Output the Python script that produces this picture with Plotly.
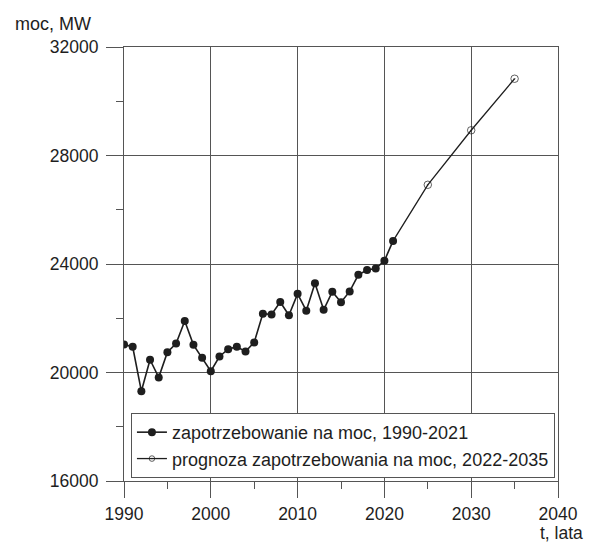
import plotly.graph_objects as go

# Historical peak power demand, 1990-2021
years_hist = list(range(1990, 2022))
demand_hist = [21030, 20950, 19310, 20470, 19820, 20750, 21070, 21900, 21020, 20540,
               20050, 20590, 20860, 20950, 20770, 21110, 22170, 22140, 22600, 22110,
               22900, 22280, 23290, 22310, 22980, 22590, 22990, 23600, 23780, 23830,
               24120, 24850]

# Forecast demand, starting from the last actual year
years_fc = [2021, 2025, 2030, 2035]
demand_fc = [24850, 26920, 28930, 30830]
fc_marker_size = [0, 7.5, 7.5, 7.5]

x_ticks = [1990, 2000, 2010, 2020, 2030, 2040]
y_ticks = [16000, 20000, 24000, 28000, 32000]

label_hist = "zapotrzebowanie na moc, 1990-2021"
label_fc = "prognoza zapotrzebowania na moc, 2022-2035"

ink = "#1e1e1e"
grid = "#555555"
font_family = "Arial, Liberation Sans, sans-serif"
fs = 17.5

fig = go.Figure()

fig.add_trace(go.Scatter(
    x=years_hist, y=demand_hist, mode="lines+markers", name=label_hist,
    line=dict(color=ink, width=1.6),
    marker=dict(symbol="circle", size=8, color=ink),
))

fig.add_trace(go.Scatter(
    x=years_fc, y=demand_fc, mode="lines+markers", name=label_fc,
    line=dict(color=ink, width=1.3),
    marker=dict(symbol="circle-open-dot", size=fc_marker_size, color=ink,
                line=dict(width=1, color=ink)),
))

fig.update_xaxes(
    range=[1990, 2040], tickvals=x_ticks, ticktext=[str(v) for v in x_ticks],
    showgrid=True, gridcolor=grid, gridwidth=1,
    showline=True, linecolor=grid, linewidth=1, mirror=True,
    ticks="outside", ticklen=16, tickcolor=grid, tickwidth=1, ticklabelstandoff=1,
    minor=dict(dtick=5, tick0=1990, ticks="outside", ticklen=7, tickcolor=grid, showgrid=False),
    zeroline=False,
    tickfont=dict(size=fs, color=ink, family=font_family),
)
fig.update_yaxes(
    range=[16000, 32000], tickvals=y_ticks, ticktext=[str(v) for v in y_ticks],
    showgrid=True, gridcolor=grid, gridwidth=1,
    showline=True, linecolor=grid, linewidth=1, mirror=True,
    ticks="outside", ticklen=17, tickcolor=grid, tickwidth=1, ticklabelstandoff=4,
    minor=dict(dtick=2000, tick0=16000, ticks="outside", ticklen=7, tickcolor=grid, showgrid=False),
    zeroline=False,
    tickfont=dict(size=fs, color=ink, family=font_family),
)

fig.update_layout(
    width=590, height=543,
    margin=dict(l=124, r=29, t=47, b=62),
    paper_bgcolor="white", plot_bgcolor="white",
    font=dict(family=font_family, color=ink, size=fs),
    showlegend=True,
    legend=dict(
        x=0.016, y=0.007, xanchor="left", yanchor="bottom",
        bgcolor="white", bordercolor=grid, borderwidth=1,
        font=dict(size=18, color=ink, family=font_family),
        tracegroupgap=0, itemwidth=30,
    ),
    annotations=[
        dict(text="moc, MW", xref="paper", yref="paper", x=-0.256, y=1.053,
             xanchor="left", yanchor="middle", showarrow=False,
             font=dict(size=18, color=ink, family=font_family)),
        dict(text="t, lata", xref="paper", yref="paper", x=1.062, y=-0.147,
             xanchor="right", yanchor="bottom", showarrow=False,
             font=dict(size=17.5, color=ink, family=font_family)),
    ],
)

fig.write_html("out.html")
